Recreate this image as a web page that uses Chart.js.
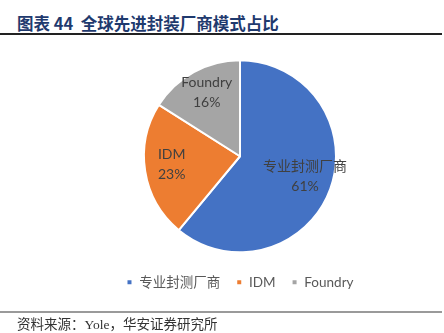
<!DOCTYPE html>
<html>
<head>
<meta charset="utf-8">
<script src="https://cdn.jsdelivr.net/npm/chart.js@4"></script>
<style>
  html, body { margin: 0; padding: 0; background: #fff; }
  body { width: 444px; height: 333px; position: relative; overflow: hidden; }
  #title {
    position: absolute; left: 17px; top: 12px;
    font: bold 16.5px "Noto Sans CJK SC", sans-serif;
    color: #1F3A6E; white-space: pre; line-height: 22px;
  }
  #topline { position: absolute; left: 0; top: 33px; width: 442px; height: 2px; background: #222; }
  #box { position: absolute; left: 36px; top: 53px; width: 408px; height: 260px; }
  #botline { position: absolute; left: 0; top: 311px; width: 442px; height: 2px; background: #9a9a9a; }
  #source {
    position: absolute; left: 17px; top: 316px;
    font: 13.5px "Liberation Serif", "Noto Sans CJK SC", serif;
    color: #333; white-space: pre; line-height: 18px;
  }
</style>
</head>
<body>
<div id="title">图表 44  全球先进封装厂商模式占比</div>
<div id="topline"></div>
<div id="box"><canvas id="chart1"></canvas></div>
<div id="botline"></div>
<div id="source">资料来源：Yole，华安证券研究所</div>

<script>
// data
const labels = ['专业封测厂商', 'IDM', 'Foundry'];
const shares = [61, 23, 16];
const colors = ['#4472C4', '#ED7D31', '#A5A5A5'];

const FONT = "Lato, 'Noto Sans CJK SC', sans-serif";

// labels inside slices: name + percent
const sliceLabels = {
  id: 'sliceLabels',
  afterDatasetsDraw(chart) {
    const ctx = chart.ctx;
    const meta = chart.getDatasetMeta(0);
    ctx.save();
    ctx.font = '14px ' + FONT;
    ctx.fillStyle = '#404040';
    ctx.textAlign = 'center';
    ctx.textBaseline = 'middle';
    meta.data.forEach((arc, i) => {
      const mid = (arc.startAngle + arc.endAngle) / 2;
      const r = arc.outerRadius * 0.72;
      const x = arc.x + Math.cos(mid) * r;
      const y = arc.y + Math.sin(mid) * r - 3;
      ctx.fillText(labels[i], x, y - 10);
      ctx.fillText(shares[i] + '%', x, y + 10);
    });
    ctx.restore();
  }
};

new Chart(document.getElementById('chart1'), {
  type: 'pie',
  data: {
    labels: labels,
    datasets: [{
      data: shares,
      backgroundColor: colors,
      borderColor: '#fff',
      borderWidth: 2,
      radius: 96
    }]
  },
  options: {
    responsive: true,
    maintainAspectRatio: false,
    animation: false,
    layout: { padding: { bottom: 14 } },
    plugins: {
      legend: {
        position: 'bottom',
        labels: {
          font: { size: 13.5, family: FONT },
          color: '#595959',
          boxWidth: 6, boxHeight: 6,
          padding: 16
        }
      },
      tooltip: { enabled: false }
    }
  },
  plugins: [sliceLabels]
});
</script>
</body>
</html>
